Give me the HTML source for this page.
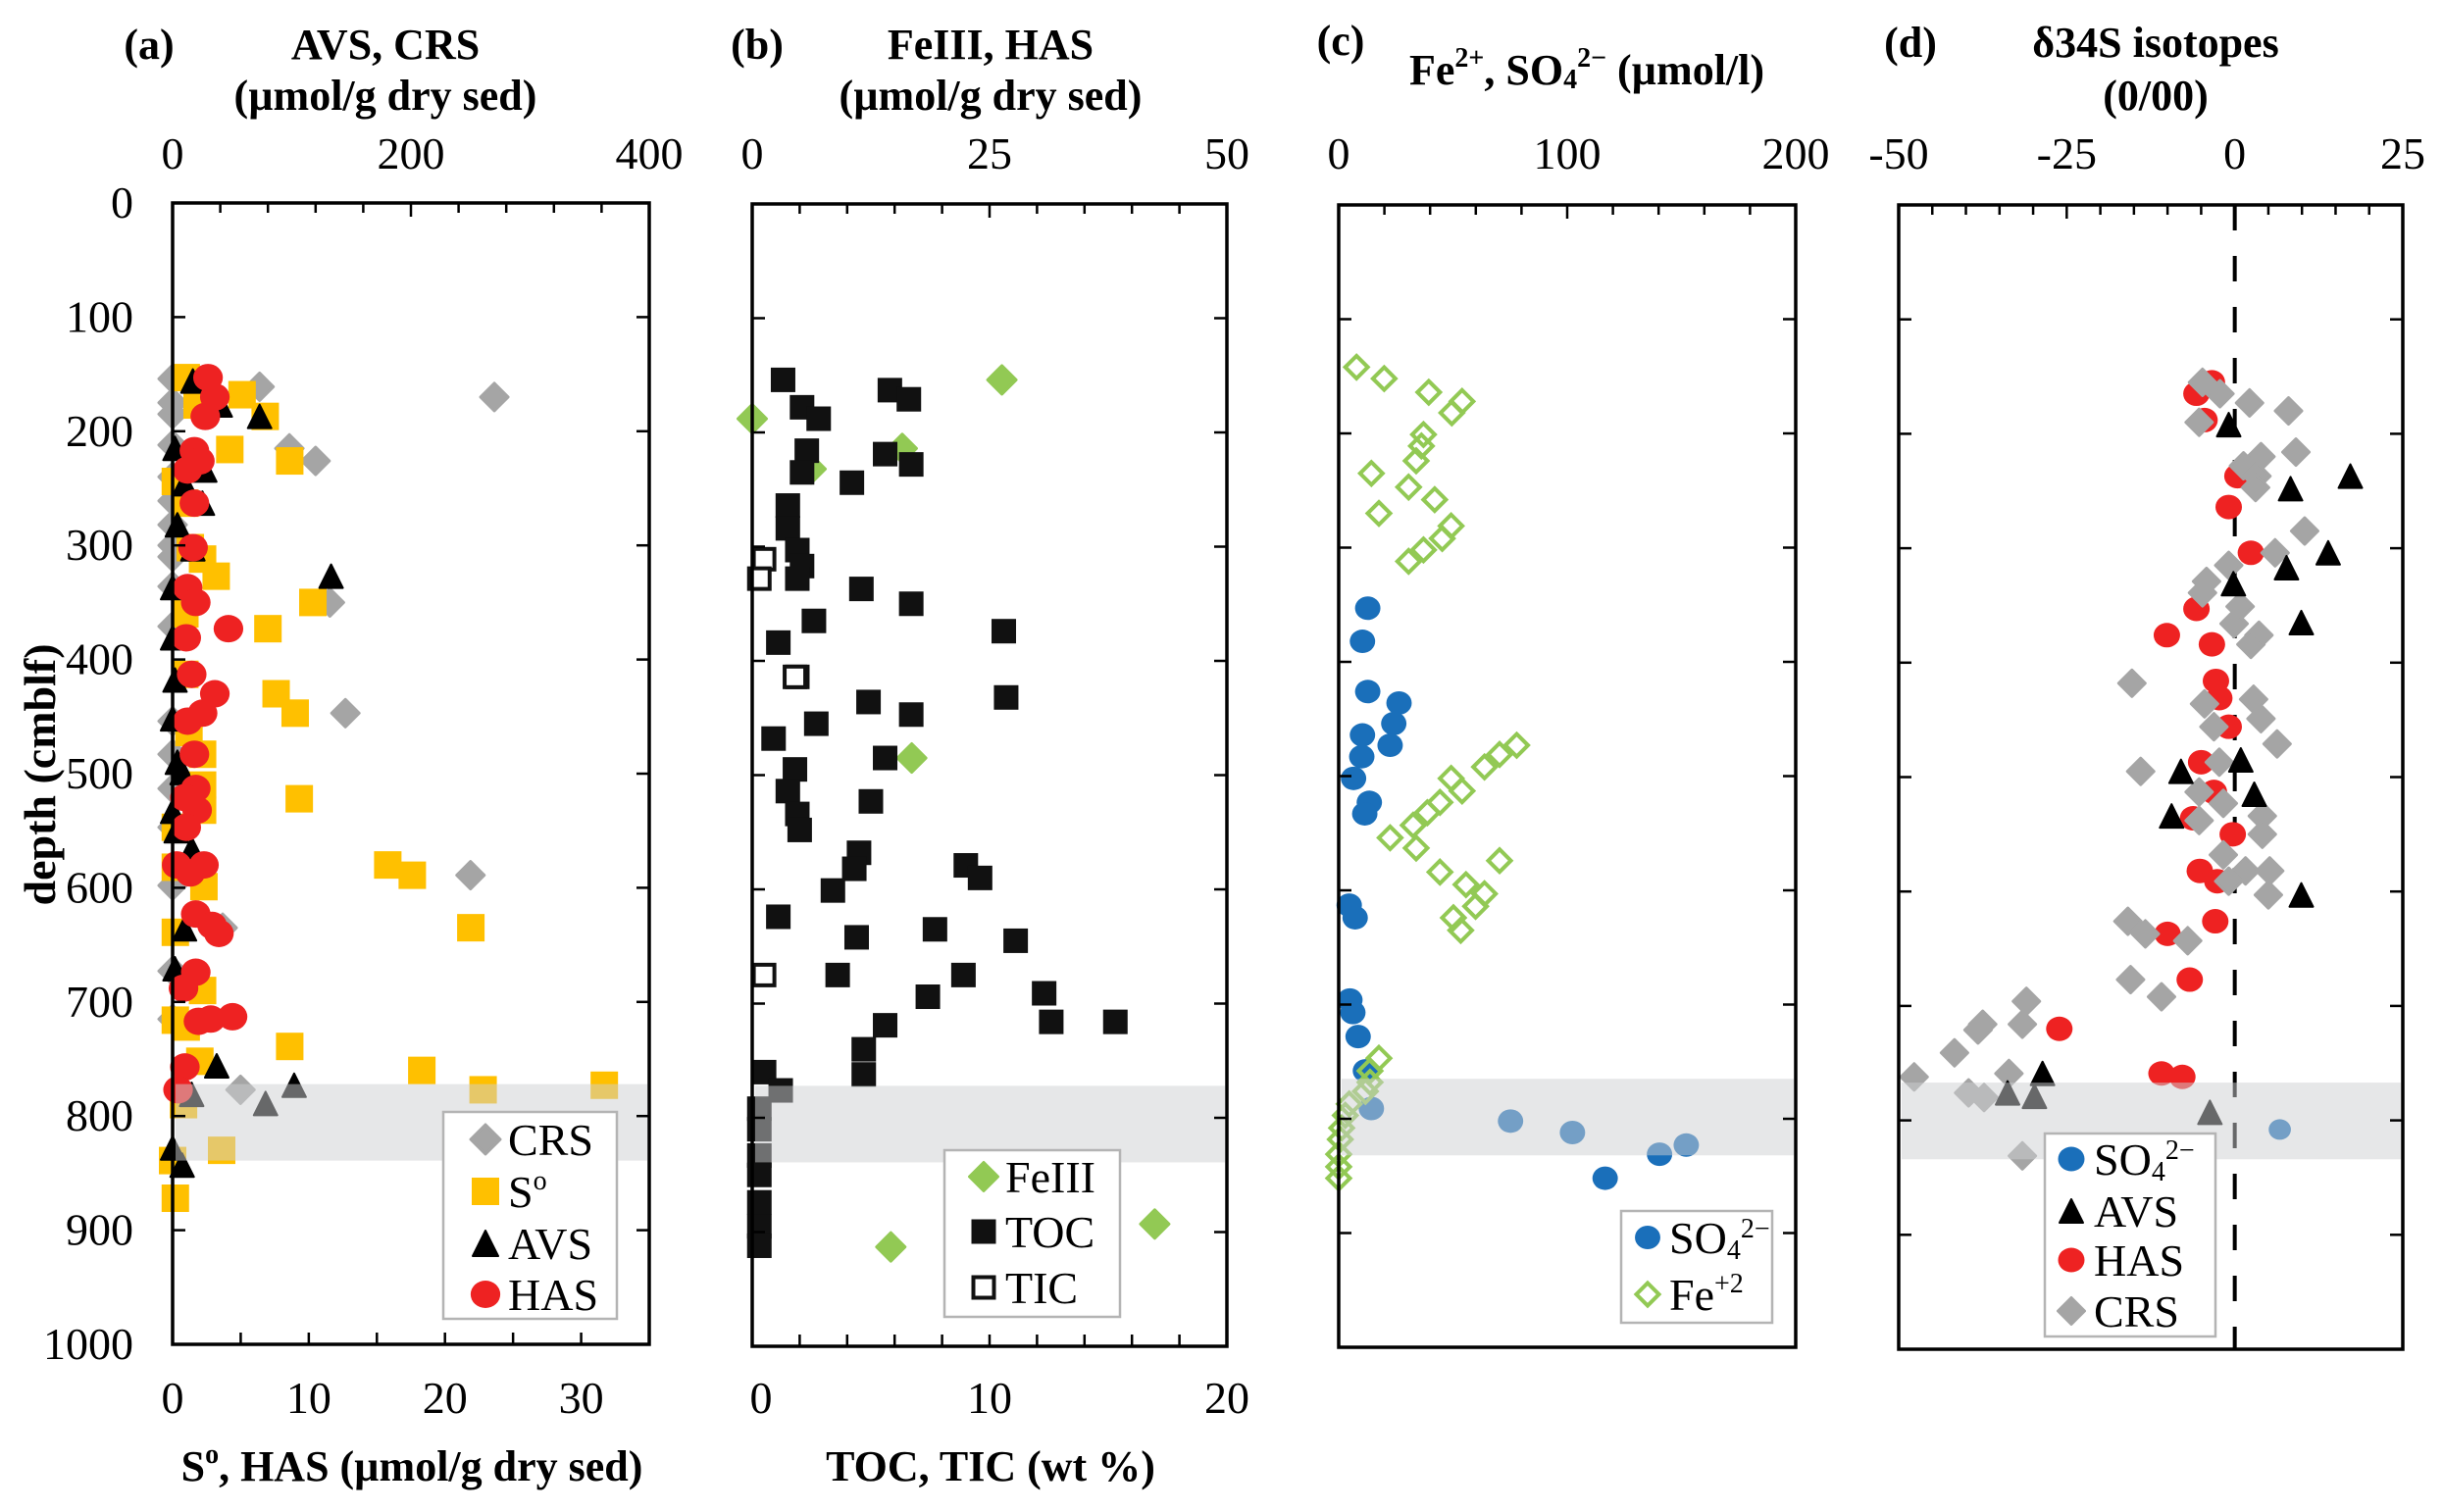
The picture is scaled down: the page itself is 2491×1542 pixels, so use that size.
<!DOCTYPE html>
<html><head><meta charset="utf-8"><style>
html,body{margin:0;padding:0;background:#fff;}
svg{display:block;font-family:"Liberation Serif","DejaVu Serif",serif;}
text{font-family:"Liberation Serif","DejaVu Serif",serif;fill:#000;}
.b{font-weight:bold;}
</style></head><body>
<svg id="fig" xmlns="http://www.w3.org/2000/svg" width="2491" height="1542" viewBox="0 0 2491 1542" font-family="Liberation Serif, DejaVu Serif, serif"></svg>
<script>
// ---------- data ----------
const aCrsDepth=[154,161,170,185,175,215,226,212,240,261,282,300,310,336,350,371,447,454,483,513,547,598,589,635,673,715,777];
const aCrsVal=[0,73,270,0,0,98,120,0,0,0,0,0,0,0,132,0,145,0,0,0,0,0,250,42,0,0,57];
const aS0Depth=[153,177,168,187,216,226,244,263,302,312,327,360,350,373,413,430,447,464,483,510,532,547,582,599,522,580,589,635,639,690,716,739,760,777,773,790,752,830,839,872,722];
const aS0Val=[1,1.8,5.1,6.8,4.2,8.6,0.2,0.9,1.3,2.2,3.2,0.9,10.3,7,0.9,7.6,9,1.2,2.2,2.2,2.2,0.2,0.2,2.3,9.3,15.8,17.6,21.9,0.2,2.2,0.2,8.6,18.3,22.8,31.7,0.8,2,3.6,0,0.2,1];
const aAvsDepth=[156,177,187,215,234,246,263,282,303,327,337,381,418,452,490,499,533,550,566,636,671,756,773,789,781,828,843];
const aAvsVal=[17,40,73,2,27,10,25,4,17,133,0,0,2,0,4,8,0,3,16,10,2,37,102,78,16,0,8];
const aHasDepth=[153,170,187,217,234,226,263,302,337,350,373,381,413,430,447,454,483,513,521,532,547,580,580,587,623,633,640,674,688,717,715,713,757,777];
const aHasVal=[2.6,3.1,2.4,1.6,1.1,2,1.6,1.5,1.1,1.7,4.1,1,1.4,3.1,2.2,1.1,1.6,1.7,0.9,1.8,1,2.3,0.3,1.3,1.7,2.9,3.4,1.7,0.8,1.9,2.8,4.4,0.9,0.4];
const bTocDepth=[154,163,171,178,188,216,219,228,235,244,264,284,303,317,328,365,337,350,374,384,414,436,432,447,455,468,495,485,514,523,534,548,568,582,579,590,601,635,642,645,624,675,675,694,691,716,716,719,740,762,760,776,792,810,833,850,874,895,912];
const bTocVal=[1.3,5.8,6.6,2.1,2.8,2.3,5.6,6.7,2.1,4.2,1.5,1.5,1.9,2.1,1.9,2.6,4.6,6.7,10.6,1.1,1.9,4.9,10.7,6.7,2.7,0.9,1.8,5.6,1.5,5,1.9,2,4.5,4.3,9,9.6,3.4,7.7,4.4,11.1,1.1,3.6,8.9,7.4,12.3,12.6,15.3,5.6,4.7,4.7,0.5,1.2,0.3,0.3,0.3,0.3,0.3,0.3,0.3];
const bTicDepth=[311,328,414,675];
const bTicVal=[0.5,0.3,1.8,0.5];
const bFeDepth=[154,188,214,232,485,913,893];
const bFeVal=[26.3,0,15.8,6.2,16.8,14.6,42.4];
const cSo4Depth=[353,382,426,436,454,464,473,483,502,523,533,613,624,696,707,728,758,791,802,812,831,823,852];
const cSo4Val=[12.7,10.4,12.7,26.4,24.1,10.4,22.5,10.1,6.5,13.4,11.4,4.6,7.2,4.9,6.2,8.5,11.7,14.3,75.2,102.3,140.4,152.1,116.6];
const cFeDepth=[142,152,164,172,182,201,211,224,235,247,258,270,281,292,302,312,473,481,492,502,513,523,532,543,554,563,574,584,595,603,614,624,635,747,758,768,776,787,797,808,818,831,842,852];
const cFeVal=[7.8,19.9,39.4,54,49.5,37.1,36.2,33.9,14.3,30.6,42,17.6,49.2,45.3,37.1,30.6,77.9,70.4,63.8,49.2,54,44.3,38.8,32.6,22.5,33.9,70.4,44.3,55.7,63.8,59.9,50.2,53.4,17.6,13.7,13.7,11.7,4.6,2.9,1.3,0.7,0,0,0];
const dSo4Depth=[808];
const dSo4Val=[6.7];
const dAvsDepth=[192,237,248,304,317,331,365,485,495,515,534,603,759,776,779,793];
const dAvsVal=[-0.9,17.2,8.3,13.9,7.7,-0.2,9.9,0.9,-8,2.9,-9.4,9.9,-28.6,-33.8,-29.8,-3.7];
const dHasDepth=[155,165,188,237,264,304,353,376,384,416,431,456,487,513,536,550,582,591,626,637,677,720,759,762];
const dHasVal=[-3.4,-5.7,-4.5,0.4,-0.9,2.4,-5.7,-10.1,-3.4,-2.8,-2.3,-0.9,-5,-3.1,-6.2,-0.3,-5.2,-2.6,-2.9,-10,-6.7,-26.1,-10.9,-7.8];
const dCrsDepth=[155,165,173,180,190,216,220,228,237,247,285,304,315,329,339,351,366,376,384,418,432,436,449,456,471,487,495,513,523,534,538,550,568,582,582,591,603,626,637,643,677,692,696,716,716,721,741,762,759,776,780,831];
const dCrsVal=[-4.8,-2.2,2.2,8,-5.3,9.1,3.9,1.3,3.3,3.1,10.4,6,-0.9,-4.2,-4.8,0.8,-0.1,3.6,2.4,-15.3,2.8,-4.5,3.9,-3.1,6.3,-2.3,-14,-5.3,-1.7,4.1,-5.3,4.1,-1.7,1.6,5.2,-0.9,5,-15.9,-13.3,-7,-15.5,-10.9,-31,-31.6,-37.5,-38.2,-41.7,-47.7,-33.6,-39.6,-37.3,-31.6];
const depthTicks=[0,100,200,300,400,500,600,700,800,900,1000];

// ---------- helpers ----------
const NS='http://www.w3.org/2000/svg';
const svg=document.getElementById('fig');
function mk(tag,attrs,parent){const e=document.createElementNS(NS,tag);for(const k in attrs)e.setAttribute(k,attrs[k]);(parent||svg).appendChild(e);return e;}
function txt(s,x,y,size,anchor,bold,parent){const t=mk('text',{x:x,y:y,'font-size':size,'text-anchor':anchor||'middle','font-family':'Liberation Serif, DejaVu Serif, serif'},parent);if(bold)t.setAttribute('font-weight','bold');t.textContent=s;return t;}
function scaleX(p,min,max){return v=>p.x0+(v-min)/(max-min)*(p.x1-p.x0);}
function scaleY(p){return d=>p.y0+d/1000*(p.y1-p.y0);}

function marker(g,type,cx,cy,color,s){
  let e;
  if(type==='sq'){e=mk('rect',{x:cx-s/2,y:cy-s/2,width:s,height:s,fill:color},g);}
  else if(type==='osq'){e=mk('rect',{x:cx-s/2+2,y:cy-s/2+2,width:s-4,height:s-4,fill:'#fff',stroke:color,'stroke-width':4},g);}
  else if(type==='ci'){e=mk('ellipse',{cx:cx,cy:cy,rx:s/2*1.08,ry:s/2,fill:color},g);}
  else if(type==='tri'){e=mk('polygon',{points:`${cx},${cy-s/2} ${cx+s/2},${cy+s/2} ${cx-s/2},${cy+s/2}`,fill:color,'stroke-linejoin':'round',stroke:color,'stroke-width':2},g);}
  else if(type==='di'){e=mk('polygon',{points:`${cx},${cy-s/2} ${cx+s/2},${cy} ${cx},${cy+s/2} ${cx-s/2},${cy}`,fill:color,'stroke-linejoin':'round',stroke:color,'stroke-width':3},g);}
  else if(type==='odi'){const r=s/2-2;e=mk('polygon',{points:`${cx},${cy-r} ${cx+r},${cy} ${cx},${cy+r} ${cx-r},${cy}`,fill:'none',stroke:color,'stroke-width':4,'stroke-linejoin':'miter'},g);}
  return e;
}
function series(p,name,depths,vals,xs,type,color,s){
  const ys=scaleY(p);
  const g=mk('g',{});
  
  
  for(let i=0;i<depths.length;i++){
    const m=marker(g,type,xs(vals[i]),ys(depths[i]),color,s);
    
    
  }
}
function frame(p,name,topTickStep,topMin,topMax,botTickStep,botMin,botMax,majorTop){
  const g=mk('g',{});
  
  
  const ys=scaleY(p);
  depthTicks.forEach(d=>{if(d===0||d===1000)return;const y=ys(d);
    mk('line',{x1:p.x0,y1:y,x2:p.x0+13,y2:y,stroke:'#000','stroke-width':2.5},g);
    mk('line',{x1:p.x1,y1:y,x2:p.x1-13,y2:y,stroke:'#000','stroke-width':2.5},g);});
  if(topTickStep){const xs=scaleX(p,topMin,topMax);
    for(let v=topMin+topTickStep;v<topMax-1e-9;v+=topTickStep){const x=xs(v);const L=(majorTop&&Math.abs((v-topMin)%majorTop)<1e-6)?14:10;
      mk('line',{x1:x,y1:p.y0,x2:x,y2:p.y0+L,stroke:'#000','stroke-width':2.5},g);}}
  if(botTickStep){const xs=scaleX(p,botMin,botMax);
    for(let v=botMin+botTickStep;v<botMax-1e-9;v+=botTickStep){const x=xs(v);
      mk('line',{x1:x,y1:p.y1,x2:x,y2:p.y1-12,stroke:'#000','stroke-width':2.5},g);}}
  const r=mk('rect',{x:p.x0,y:p.y0,width:p.x1-p.x0,height:p.y1-p.y0,fill:'none',stroke:'#000','stroke-width':3.5});
  
  
}
function band(p,name,d0,d1){const ys=scaleY(p);
  const r=mk('rect',{x:p.x0+3,y:ys(d0),width:p.x1-p.x0-5,height:ys(d1)-ys(d0),fill:'rgb(205,207,210)','fill-opacity':0.5});
  
  }
function legend(name,x,y,w,h,entries,mx,tx,size){
  const g=mk('g',{});
  
  
  mk('rect',{x:x,y:y,width:w,height:h,fill:'#fff',stroke:'#b4b4b4','stroke-width':2.5},g);
  entries.forEach(e=>{
    const m=marker(g,e.type,mx,e.y,e.color,e.s);
    
    
    const t=mk('text',{x:tx,y:e.y+16,'font-size':size,'font-family':'Liberation Serif, DejaVu Serif, serif'},g);
    
    
    t.innerHTML=e.label;
  });
}

const pa={x0:176,x1:662,y0:207,y1:1371};
const pb={x0:767,x1:1251,y0:208,y1:1373};
const pc={x0:1365,x1:1831,y0:209,y1:1374};
const pd={x0:1936,x1:2450,y0:209,y1:1376};

// ---------- panel a ----------
{const top=scaleX(pa,0,400),bot=scaleX(pa,0,35);
series(pa,'a-crs',aCrsDepth,aCrsVal,top,'di','#a5a5a5',28);
series(pa,'a-s0',aS0Depth,aS0Val,bot,'sq','#ffc000',28);
series(pa,'a-avs',aAvsDepth,aAvsVal,top,'tri','#000',24);
series(pa,'a-has',aHasDepth,aHasVal,bot,'ci','#ee2222',28);
band(pa,'a-sulfate-methane-band',772,839);
frame(pa,'a',40,0,400,5,0,35,200);
const ys=scaleY(pa);
depthTicks.forEach(d=>txt(String(d),136,ys(d)+15,46,'end'));
[0,200,400].forEach(v=>txt(String(v),top(v),172,46));
[0,10,20,30].forEach(v=>txt(String(v),bot(v),1441,46));
legend('legend-a',452,1134,177,211,[
 {type:'di',color:'#a5a5a5',s:30,y:1162,label:'CRS'},
 {type:'sq',color:'#ffc000',s:28,y:1215,label:'S<tspan font-size="28" dy="-18">o</tspan>'},
 {type:'tri',color:'#000',s:26,y:1268,label:'AVS'},
 {type:'ci',color:'#ee2222',s:28,y:1320,label:'HAS'}],495,518,46);
}
// ---------- panel b ----------
{const top=scaleX(pb,0,50),bot=scaleX(pb,0,20);
series(pb,'b-feiii',bFeDepth,bFeVal,top,'di','#92c954',29);
series(pb,'b-toc',bTocDepth,bTocVal,bot,'sq','#111',25);
series(pb,'b-tic',bTicDepth,bTicVal,bot,'osq','#111',25);
band(pb,'b-sulfate-methane-band',772,839);
frame(pb,'b',5,0,50,2,0,20,25);
[0,25,50].forEach(v=>txt(String(v),top(v),172,46));
[0,10,20].forEach(v=>txt(String(v),bot(v)+(v===0?9:0),1441,46));
legend('legend-b',963,1173,179,170,[
 {type:'di',color:'#92c954',s:29,y:1200,label:'FeIII'},
 {type:'sq',color:'#111',s:25,y:1256,label:'TOC'},
 {type:'osq',color:'#111',s:25,y:1313,label:'TIC'}],1003,1025,46);
}
// ---------- panel c ----------
{const xs=scaleX(pc,0,200);
series(pc,'c-so4',cSo4Depth,cSo4Val,xs,'ci','#1a6fba',24);
series(pc,'c-fe2',cFeDepth,cFeVal,xs,'odi','#92c954',27);
band(pc,'c-sulfate-methane-band',765,832);
frame(pc,'c',20,0,200,0,0,0,100);
[0,100,200].forEach(v=>txt(String(v),xs(v),172,46));
legend('legend-c',1653,1235,154,114,[
 {type:'ci',color:'#1a6fba',s:24,y:1262,label:'SO<tspan font-size="28" dy="6">4</tspan><tspan font-size="28" dy="-22">2−</tspan>'},
 {type:'odi',color:'#92c954',s:27,y:1320,label:'Fe<tspan font-size="28" dy="-18">+2</tspan>'}],1680,1702,46);
}
// ---------- panel d ----------
{const xs=scaleX(pd,-50,25);
const dl=mk('line',{x1:xs(0),y1:pd.y0,x2:xs(0),y2:pd.y1,stroke:'#000','stroke-width':4,'stroke-dasharray':'26 26'});


series(pd,'d-has',dHasDepth,dHasVal,xs,'ci','#ee2222',25);
series(pd,'d-crs',dCrsDepth,dCrsVal,xs,'di','#a5a5a5',27);
series(pd,'d-avs',dAvsDepth,dAvsVal,xs,'tri','#000',24);
series(pd,'d-so4',dSo4Depth,dSo4Val,xs,'ci','#1a6fba',21);
band(pd,'d-sulfate-methane-band',767,834);
frame(pd,'d',5,-50,25,0,0,0,25);
[-50,-25,0,25].forEach(v=>txt(String(v),xs(v),172,46));
legend('legend-d',2085,1156,174,207,[
 {type:'ci',color:'#1a6fba',s:25,y:1182,label:'SO<tspan font-size="28" dy="6">4</tspan><tspan font-size="28" dy="-22">2−</tspan>'},
 {type:'tri',color:'#000',s:24,y:1235,label:'AVS'},
 {type:'ci',color:'#ee2222',s:25,y:1285,label:'HAS'},
 {type:'di',color:'#a5a5a5',s:27,y:1337,label:'CRS'}],2112,2135,46);
}
// ---------- titles ----------
function ttl(name,s,x,y,size){const t=txt(s,x,y,size||44,'middle',true);return t;}
ttl('panel-a-label','(a)',152,60);
ttl('a-top-axis-title','AVS, CRS',393,60);
ttl('a-top-axis-units','(µmol/g dry sed)',393,112);
ttl('panel-b-label','(b)',772,60);
ttl('b-top-axis-title','FeIII, HAS',1010,60);
ttl('b-top-axis-units','(µmol/g dry sed)',1010,112);
ttl('panel-c-label','(c)',1367,56);
{const t=ttl('c-top-axis-title','',1618,86);t.innerHTML='Fe<tspan font-size="28" dy="-18">2+</tspan><tspan dy="18">, SO</tspan><tspan font-size="28" dy="4">4</tspan><tspan font-size="28" dy="-22">2−</tspan><tspan dy="18"> (µmol/l)</tspan>';}
ttl('panel-d-label','(d)',1948,58);
ttl('d-top-axis-title','δ34S isotopes',2198,58);
ttl('d-top-axis-units','(0/00)',2198,112);
{const t=ttl('a-bottom-axis-title','',420,1510);t.innerHTML='S<tspan font-size="28" dy="-18">o</tspan><tspan dy="18">, HAS (µmol/g dry sed)</tspan>';}
ttl('b-bottom-axis-title','TOC, TIC (wt %)',1010,1510);
{const t=mk('text',{x:0,y:0,'font-size':46,'font-weight':'bold','text-anchor':'middle','font-family':'Liberation Serif, DejaVu Serif, serif',transform:'translate(56,790) rotate(-90)'});


t.textContent='depth (cmblf)';}
</script>
</body></html>
